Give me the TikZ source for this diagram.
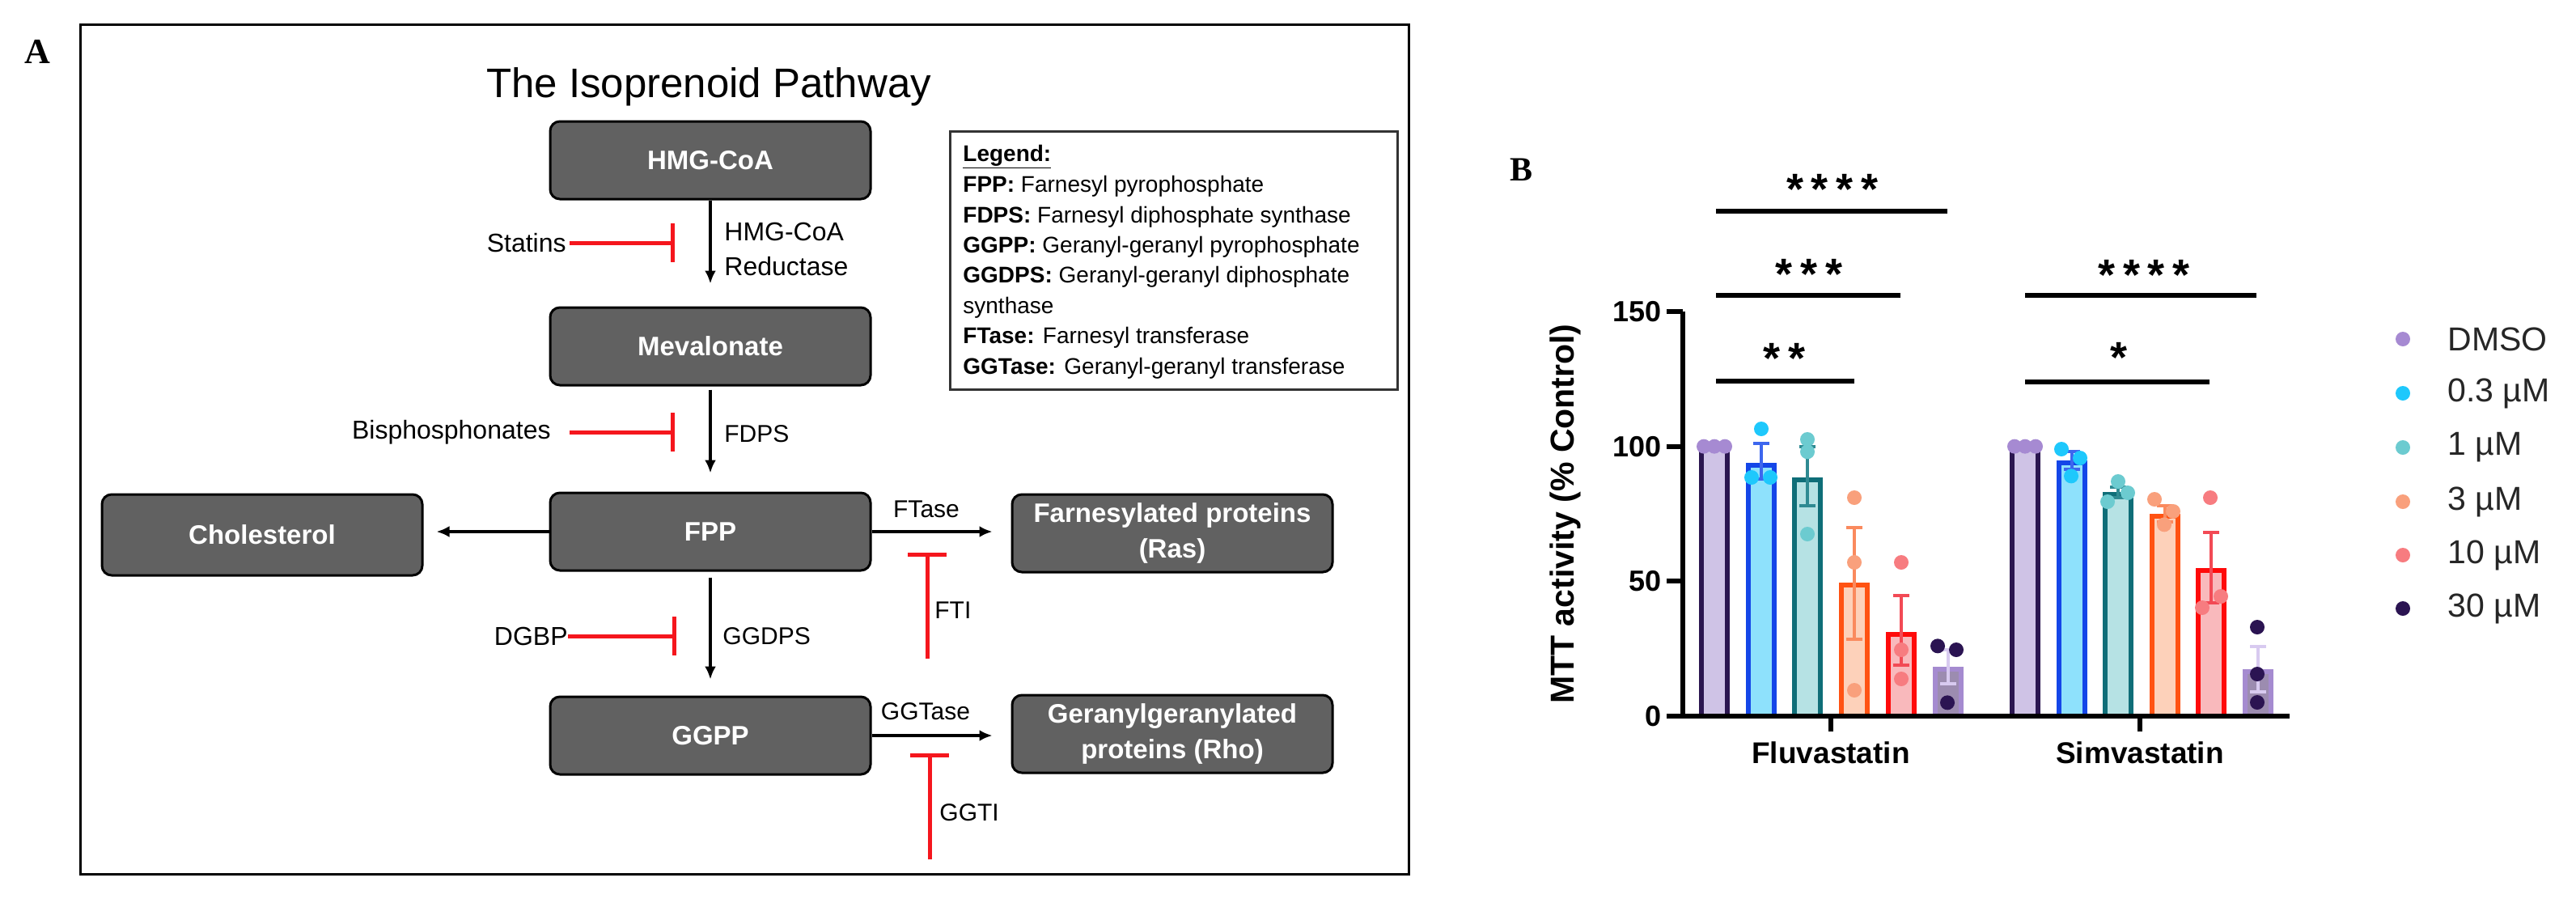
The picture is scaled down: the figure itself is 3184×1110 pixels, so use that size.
\documentclass[tikz,border=0pt]{standalone}
\usepackage{fontspec}
\setmainfont{Liberation Sans}
\newfontfamily\lserif{Liberation Serif}
\usetikzlibrary{arrows.meta}
\newcommand\fsz[2]{\fontsize{#1}{#2}\selectfont}
\definecolor{boxgrey}{HTML}{616161}
\definecolor{inhred}{HTML}{F5161D}
\definecolor{leggrey}{HTML}{333333}
\definecolor{navy}{HTML}{2B1650}
\definecolor{lavfill}{HTML}{CFC3E6}
\definecolor{lavdot}{HTML}{A68AD2}
\definecolor{bblue}{HTML}{1446E8}
\definecolor{cyanfill}{HTML}{8EE1FC}
\definecolor{cyandot}{HTML}{1EC8FC}
\definecolor{cyanerr}{HTML}{3D66EE}
\definecolor{tteal}{HTML}{0F6E78}
\definecolor{tealfill}{HTML}{B6E2E4}
\definecolor{tealdot}{HTML}{6CCBD0}
\definecolor{tealerr}{HTML}{2F8A92}
\definecolor{oorange}{HTML}{FF5212}
\definecolor{peach}{HTML}{FDD1BA}
\definecolor{orangedot}{HTML}{F9A07C}
\definecolor{orangeerr}{HTML}{FA8A5E}
\definecolor{rred}{HTML}{FF0A0A}
\definecolor{pinkfill}{HTML}{F9B9BC}
\definecolor{reddot}{HTML}{F77C80}
\definecolor{rederr}{HTML}{F24A55}
\definecolor{purp}{HTML}{A58BD0}
\definecolor{purpfill}{HTML}{9C8CB0}
\definecolor{darkdot}{HTML}{2B1452}
\definecolor{purperr}{HTML}{D8CAF0}
\definecolor{legtext}{HTML}{262626}
% bar helpers (y in data units: 0 -> 885, 150 -> 385)
\newcommand\mybar[4]{\filldraw[draw=#3,fill=#4,line width=3pt] ({#1-16},885) rectangle ({#1+16},{888-3.3333*#2});}
\newcommand\myerr[4]{\draw[#4,line width=2pt] (#1,{885-3.3333*#2}) -- (#1,{885-3.3333*#3});
  \draw[#4,line width=2pt] ({#1-10},{885-3.3333*#2}) -- ({#1+10},{885-3.3333*#2});
  \draw[#4,line width=2pt] ({#1-10},{885-3.3333*#3}) -- ({#1+10},{885-3.3333*#3});}
\newcommand\mydot[3]{\fill[#3] (#1,{885-3.3333*#2}) circle[radius=4.5pt];}
\begin{document}
\begin{tikzpicture}[x=0.5pt,y=-0.5pt,
  pbox/.style={draw=black,line width=1.5pt,fill=boxgrey,rounded corners=6pt,text=white,
    font=\bfseries\fsz{16.5}{22},align=center,minimum width=198pt,minimum height=48pt,inner sep=0pt},
  lbl/.style={font=\fsz{16}{19},text=black,inner sep=0pt},
  slbl/.style={font=\fsz{15}{18},text=black,inner sep=0pt},
  flow/.style={-{Latex[length=8pt,width=7pt]},line width=1.6pt,black},
  inh/.style={-{Bar[width=24pt]},line width=2.5pt,inhred},
  leg/.style={font=\fsz{14}{17},text=black,inner sep=0pt,anchor=base west},
  tick/.style={font=\bfseries\fsz{18}{20},inner sep=0pt,anchor=east},
  stars/.style={font=\bfseries\fsz{27}{30},inner sep=0pt,anchor=base},
  sig/.style={line width=2.75pt,black},
  axis/.style={line width=3pt,black},
  plegend/.style={font=\fsz{20.5}{24},text=legtext,inner sep=0pt,anchor=west}]
\useasboundingbox (0,0) rectangle (3184,1110);
\fill[white] (0,0) rectangle (3184,1110);

% ---------------- Panel A ----------------
\node[font=\lserif\bfseries\fsz{22}{24},inner sep=0pt] (labA) at (46,64) {A};
\draw[line width=1.5pt] (99,30) rectangle (1741,1080);
\node[font=\fsz{25.5}{28},inner sep=0pt,anchor=base] (title) at (876,120) {The Isoprenoid Pathway};

\node[pbox] (hmg) at (878,198) {HMG-CoA};
\node[pbox] (mev) at (878,428) {Mevalonate};
\node[pbox] (fpp) at (878,657) {FPP};
\node[pbox] (ggpp) at (878,909) {GGPP};
\node[pbox,minimum height=50pt] (chol) at (324,661) {Cholesterol};
\node[pbox] (farn) at (1449,659) {Farnesylated proteins\\(Ras)};
\node[pbox] (gera) at (1449,907) {Geranylgeranylated\\proteins (Rho)};

\draw[flow,shorten >=14pt] (hmg) -- (mev);
\draw[flow,shorten <=2pt,shorten >=11.5pt] (mev) -- (fpp);
\draw[flow,shorten <=3.5pt,shorten >=10pt] (fpp) -- (ggpp);
\draw[flow,shorten >=8pt] (fpp.west) -- (fpp.west -| chol.east);
\draw[flow,shorten >=11.5pt] (fpp.east) -- (fpp.east -| farn.west);
\draw[flow,shorten >=11.5pt] (ggpp.east) -- (ggpp.east -| gera.west);

\node[lbl,anchor=west] (hmglbl) at (895,286) {HMG-CoA};
\node[lbl,anchor=west] (redlbl) at (895,329) {Reductase};
\node[slbl,anchor=west] (fdpslbl) at (895,536) {FDPS};
\node[slbl,anchor=west] (ggdpslbl) at (893,786) {GGDPS};
\node[slbl] (ftaselbl) at (1145,629) {FTase};
\node[slbl] (ggtaselbl) at (1144,879) {GGTase};
\node[slbl,anchor=west] (ftilbl) at (1155,754) {FTI};
\node[slbl,anchor=west] (ggtilbl) at (1161,1004) {GGTI};

\node[lbl,anchor=east] (statins) at (700,300) {Statins};
\node[lbl,anchor=east] (bisph) at (681,534) {Bisphosphonates};
\node[lbl,anchor=east] (dgbp) at (702,786) {DGBP};
\coordinate (statinsT) at (834,300);
\coordinate (bisphT) at (834,536);
\coordinate (dgbpT) at (836,786);
\coordinate (ftiS) at (1146,814);
\coordinate (ftiT) at (1146,683);
\coordinate (ggtiS) at (1149,1062);
\coordinate (ggtiT) at (1149,931);
\draw[inh,shorten <=2pt] (statins.east) -- (statins.east -| statinsT);
\draw[inh,shorten <=11.5pt] (bisph.east) -- (bisph.east -| bisphT);
\draw[inh] (dgbp.east) -- (dgbp.east -| dgbpT);
\draw[inh] (ftiS) -- (ftiT);
\draw[inh] (ggtiS) -- (ggtiT);

% legend box
\node[draw=leggrey,line width=1.5pt,minimum width=276.5pt,minimum height=159.5pt,anchor=north west,inner sep=0pt] (legbox) at (1173,161) {};
\node[leg] (l0) at (1190,199) {\bfseries\underline{Legend:}};
\node[leg] (l1) at (1190,237) {\textbf{FPP:} Farnesyl pyrophosphate};
\node[leg] (l2) at (1190,275) {\textbf{FDPS:} Farnesyl diphosphate synthase};
\node[leg] (l3) at (1190,312) {\textbf{GGPP:} Geranyl-geranyl pyrophosphate};
\node[leg] (l4) at (1190,349) {\textbf{GGDPS:} Geranyl-geranyl diphosphate};
\node[leg] (l5) at (1190,387) {synthase};
\node[leg] (l6) at (1190,424) {\textbf{FTase:} Farnesyl transferase};
\node[leg] (l7) at (1190,462) {\textbf{GGTase:} Geranyl-geranyl transferase};

% ---------------- Panel B ----------------
\node[font=\lserif\bfseries\fsz{21}{24},inner sep=0pt] (labB) at (1880,210) {B};

% bars Fluvastatin
\mybar{2119}{100}{navy}{lavfill}
\mybar{2177}{94}{bblue}{cyanfill}
\mybar{2234}{88.5}{tteal}{tealfill}
\mybar{2292}{49.5}{oorange}{peach}
\mybar{2350}{31.2}{rred}{pinkfill}
\mybar{2408}{18.3}{purp}{purpfill}
% bars Simvastatin
\mybar{2503}{100}{navy}{lavfill}
\mybar{2561}{94.8}{bblue}{cyanfill}
\mybar{2618}{83}{tteal}{tealfill}
\mybar{2676}{75}{oorange}{peach}
\mybar{2733}{54.9}{rred}{pinkfill}
\mybar{2791}{17.4}{purp}{purpfill}

% error bars
\myerr{2177}{88}{101}{cyanerr}
\myerr{2234}{78}{100}{tealerr}
\myerr{2292}{28.5}{70}{orangeerr}
\myerr{2350}{18.9}{44.7}{rederr}
\myerr{2408}{12}{24.6}{purperr}
\myerr{2561}{91.5}{98}{cyanerr}
\myerr{2618}{81}{85}{tealerr}
\myerr{2676}{72}{78}{orangeerr}
\myerr{2733}{42}{68}{rederr}
\myerr{2791}{9}{25.8}{purperr}

% dots Fluvastatin
\mydot{2106}{100}{lavdot}\mydot{2119}{100}{lavdot}\mydot{2132}{100}{lavdot}
\mydot{2177}{106.5}{cyandot}\mydot{2165}{88.5}{cyandot}\mydot{2188}{88.5}{cyandot}
\mydot{2234}{102.6}{tealdot}\mydot{2234}{98}{tealdot}\mydot{2234}{67.5}{tealdot}
\mydot{2292}{81}{orangedot}\mydot{2292}{57}{orangedot}\mydot{2292}{9.6}{orangedot}
\mydot{2350}{57}{reddot}\mydot{2350}{24.6}{reddot}\mydot{2350}{13.8}{reddot}
\mydot{2395}{26}{darkdot}\mydot{2418}{24.6}{darkdot}\mydot{2407}{5}{darkdot}
% dots Simvastatin
\mydot{2490}{100}{lavdot}\mydot{2503}{100}{lavdot}\mydot{2516}{100}{lavdot}
\mydot{2548}{99}{cyandot}\mydot{2571}{95.7}{cyandot}\mydot{2560}{89}{cyandot}
\mydot{2618}{87}{tealdot}\mydot{2630}{82.8}{tealdot}\mydot{2605}{79.5}{tealdot}
\mydot{2663}{80.4}{orangedot}\mydot{2686}{75.9}{orangedot}\mydot{2675}{71}{orangedot}
\mydot{2732}{81}{reddot}\mydot{2745}{44.4}{reddot}\mydot{2722}{40.2}{reddot}
\mydot{2790}{33}{darkdot}\mydot{2790}{15.6}{darkdot}\mydot{2790}{5.1}{darkdot}

% axes
\draw[axis] (2080,385) -- (2080,885) -- (2830,885);
\foreach \v in {0,50,100,150} \draw[axis] (2060,{885-3.3333*\v}) -- (2080,{885-3.3333*\v});
\draw[axis] (2263,885) -- (2263,904);
\draw[axis] (2645,885) -- (2645,904);
\node[tick] (t0) at (2054,885) {0};
\node[tick] (t50) at (2054,718) {50};
\node[tick] (t100) at (2054,552) {100};
\node[tick] (t150) at (2054,385) {150};
\node[font=\bfseries\fsz{18.5}{20},inner sep=0pt] (fluv) at (2263,930) {Fluvastatin};
\node[font=\bfseries\fsz{18.5}{20},inner sep=0pt] (simv) at (2645,930) {Simvastatin};
\node[font=\bfseries\fsz{20.5}{24},inner sep=0pt,rotate=90] (ytitle) at (1935,635) {MTT activity (\% Control)};

% significance
\draw[sig] (2121,261) -- (2407,261);
\draw[sig] (2121,365) -- (2349,365);
\draw[sig] (2121,471) -- (2292,471);
\draw[sig] (2503,365) -- (2789,365);
\draw[sig] (2503,472) -- (2731,472);
\node[stars] (s1) at (2265,252) {*\hspace{5pt}*\hspace{5pt}*\hspace{5pt}*};
\node[stars] (s2) at (2236,357) {*\hspace{5pt}*\hspace{5pt}*};
\node[stars] (s3) at (2205,461) {*\hspace{5pt}*};
\node[stars] (s4) at (2650,358) {*\hspace{5pt}*\hspace{5pt}*\hspace{5pt}*};
\node[stars] (s5) at (2619,460) {*};

% legend
\foreach \c/\yy in {lavdot/419,cyandot/486,tealdot/553,orangedot/620,reddot/686,darkdot/752}
  \fill[\c] (2970,\yy) circle[radius=4.5pt];
\node[plegend] (g1) at (3025,419) {DMSO};
\node[plegend] (g2) at (3025,486) {0.3 µM};
\node[plegend] (g3) at (3025,553) {1 µM};
\node[plegend] (g4) at (3025,620) {3 µM};
\node[plegend] (g5) at (3025,686) {10 µM};
\node[plegend] (g6) at (3025,752) {30 µM};
\end{tikzpicture}
\end{document}
